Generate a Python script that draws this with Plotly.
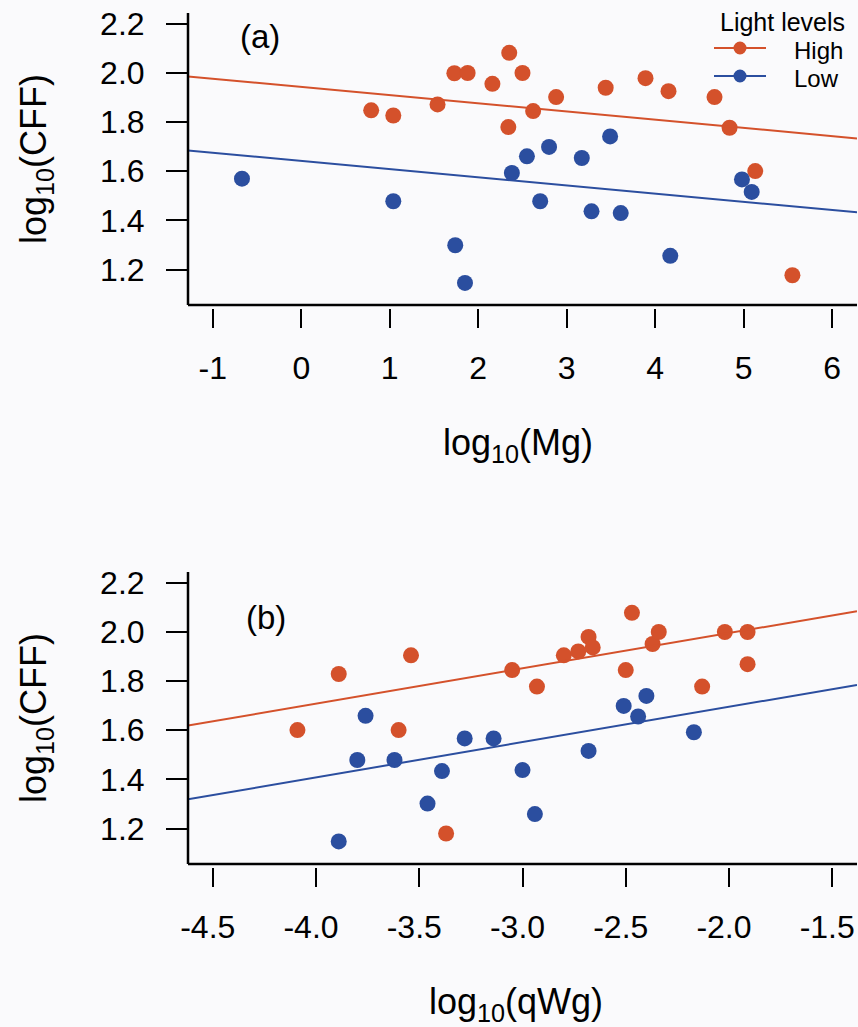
import plotly.graph_objects as go

# ---------------- data ----------------
# Panel (a): log10(Mg) vs log10(CFF)
mg_high_x = [0.79, 1.04, 1.54, 1.73, 1.88, 2.16, 2.35, 2.50, 2.34, 2.62, 2.88, 3.44, 3.89, 4.15, 4.67, 4.84, 5.13, 5.55]
mg_high_y = [1.848, 1.827, 1.872, 1.999, 2.000, 1.956, 2.082, 2.000, 1.780, 1.845, 1.902, 1.940, 1.979, 1.926, 1.902, 1.777, 1.601, 1.177]
mg_low_x = [-0.67, 1.04, 1.74, 1.85, 2.38, 2.55, 2.70, 2.80, 3.17, 3.28, 3.49, 3.61, 4.17, 4.98, 5.09]
mg_low_y = [1.570, 1.478, 1.299, 1.146, 1.593, 1.661, 1.478, 1.699, 1.654, 1.437, 1.742, 1.430, 1.256, 1.567, 1.516]

# Panel (b): log10(qWg) vs log10(CFF)
qwg_high_x = [-4.09, -3.89, -3.60, -3.54, -3.37, -3.05, -2.93, -2.80, -2.73, -2.68, -2.66, -2.50, -2.47, -2.37, -2.34, -2.13, -2.02, -1.91, -1.91]
qwg_high_y = [1.601, 1.829, 1.601, 1.905, 1.180, 1.845, 1.778, 1.905, 1.921, 1.980, 1.937, 1.845, 2.078, 1.951, 2.000, 1.778, 2.000, 2.000, 1.869]
qwg_low_x = [-3.89, -3.80, -3.76, -3.62, -3.46, -3.39, -3.28, -3.14, -3.00, -2.94, -2.68, -2.51, -2.44, -2.40, -2.17]
qwg_low_y = [1.148, 1.479, 1.659, 1.479, 1.302, 1.434, 1.567, 1.567, 1.438, 1.259, 1.516, 1.699, 1.656, 1.740, 1.592]

# Fitted (parallel) regression lines: intercept at x = 0 and common slope
mg_slope = -0.0333
mg_int_high = 1.943
mg_int_low = 1.642
qwg_slope = 0.1437
qwg_int_high = 2.283
qwg_int_low = 1.983

# Axis limits and tick labels
mg_xlim = [-1, 6]
qwg_xlim = [-4.5, -1.5]
cff_ylim = [1.1, 2.2]
mg_ticks = [-1, 0, 1, 2, 3, 4, 5, 6]
mg_ticktext = ["-1", "0", "1", "2", "3", "4", "5", "6"]
qwg_ticks = [-4.5, -4.0, -3.5, -3.0, -2.5, -2.0, -1.5]
qwg_ticktext = ["-4.5", "-4.0", "-3.5", "-3.0", "-2.5", "-2.0", "-1.5"]
cff_ticks = [1.2, 1.4, 1.6, 1.8, 2.0, 2.2]
cff_ticktext = ["1.2", "1.4", "1.6", "1.8", "2.0", "2.2"]
levels = ["High", "Low"]
legend_title = "Light levels"

# ---------------- styling ----------------
RED = "#D4512B"
BLUE = "#2B4E9F"
BG = "#FAFAFC"
FONT = "Liberation Sans, Arial, sans-serif"
W, H = 858, 1027
TICK_FS = 32
TITLE_FS = 36


def ext(lim):
    d = (lim[1] - lim[0]) * 0.04
    return [lim[0] - d, lim[1] + d]


def px(xp):
    return xp / W


def py(yp):
    return (H - yp) / H


xr_a = ext(mg_xlim)
xr_b = ext(qwg_xlim)
yr = ext(cff_ylim)

xdom = [px(188), px(857)]
ydom_a = [py(305), py(13)]
ydom_b = [py(864), py(572)]

fig = go.Figure()


def add_panel(xh, yh, xl, yl, slope, ih, il, xr, xa, ya):
    for xs, ys, c, nm in [(xh, yh, RED, levels[0]), (xl, yl, BLUE, levels[1])]:
        fig.add_trace(go.Scatter(x=xs, y=ys, mode="markers", xaxis=xa, yaxis=ya, name=nm,
                                 marker=dict(color=c, size=16, line=dict(width=0)),
                                 showlegend=False))
    for icpt, c in [(ih, RED), (il, BLUE)]:
        lx = [xr[0], xr[1]]
        ly = [icpt + slope * v for v in lx]
        fig.add_trace(go.Scatter(x=lx, y=ly, mode="lines", xaxis=xa, yaxis=ya,
                                 line=dict(color=c, width=2), showlegend=False,
                                 hoverinfo="skip"))


add_panel(mg_high_x, mg_high_y, mg_low_x, mg_low_y, mg_slope, mg_int_high, mg_int_low, xr_a, "x", "y")
add_panel(qwg_high_x, qwg_high_y, qwg_low_x, qwg_low_y, qwg_slope, qwg_int_high, qwg_int_low, xr_b, "x2", "y2")

xcommon = dict(showgrid=False, zeroline=False, showline=False, ticks="outside",
               ticklen=19, tickwidth=2, tickcolor="black", automargin=False,
               ticklabeloverflow="allow",
               tickfont=dict(family=FONT, size=TICK_FS, color="black"), ticklabelstandoff=13)
ycommon = dict(showgrid=False, zeroline=False, showline=False, ticks="outside",
               ticklen=21, tickwidth=2, tickcolor="black", automargin=False,
               tickfont=dict(family=FONT, size=TICK_FS, color="black"), ticklabelstandoff=15,
               range=yr, tickvals=cff_ticks, ticktext=cff_ticktext)

fig.update_layout(
    width=W, height=H, margin=dict(l=0, r=0, t=0, b=0),
    paper_bgcolor=BG, plot_bgcolor=BG,
    font=dict(family=FONT, size=TICK_FS, color="black"),
    xaxis=dict(domain=xdom, range=xr_a, anchor="free", position=ydom_a[0] - 3 / H,
               tickvals=mg_ticks, ticktext=mg_ticktext, **xcommon),
    yaxis=dict(domain=ydom_a, anchor="x", **ycommon),
    xaxis2=dict(domain=xdom, range=xr_b, anchor="free", position=ydom_b[0] - 3 / H,
                tickvals=qwg_ticks, ticktext=qwg_ticktext, ticklabelshift=-5, **xcommon),
    yaxis2=dict(domain=ydom_b, anchor="x2", **ycommon),
    showlegend=False,
)

shapes = []
for xa, ya in [("x", "y"), ("x2", "y2")]:
    shapes.append(dict(type="line", xref=f"{xa} domain", yref=f"{ya} domain",
                       x0=0, x1=0, y0=0, y1=1, line=dict(color="black", width=2.5)))
    shapes.append(dict(type="line", xref=f"{xa} domain", yref=f"{ya} domain",
                       x0=0, x1=1, y0=0, y1=0, line=dict(color="black", width=2.5)))

ann = []
# legend (drawn in the top-right corner of panel a)
for i, (nm, c) in enumerate(zip(levels, [RED, BLUE])):
    ly = 48 + i * 28
    shapes.append(dict(type="line", xref="paper", yref="paper", x0=px(714), x1=px(766),
                       y0=py(ly), y1=py(ly), line=dict(color=c, width=2)))
    shapes.append(dict(type="circle", xref="paper", yref="paper", xsizemode="pixel", ysizemode="pixel",
                       xanchor=px(740), yanchor=py(ly), x0=-6.5, x1=6.5, y0=-6.5, y1=6.5,
                       fillcolor=c, line=dict(width=0)))
    ann.append(dict(text=nm, x=px(792), y=py(ly + 3), xref="paper", yref="paper", showarrow=False,
                    xanchor="left", yanchor="middle", font=dict(family=FONT, size=24, color="black")))
ann.append(dict(text=legend_title, x=px(718), y=py(22), xref="paper", yref="paper", showarrow=False,
                xanchor="left", yanchor="middle", font=dict(family=FONT, size=25, color="black")))
fig.update_layout(shapes=shapes)

for ydom in [ydom_a, ydom_b]:
    ann.append(dict(text="log<sub>10</sub>(CFF)", x=px(36), y=(ydom[0] + ydom[1]) / 2,
                    xref="paper", yref="paper", showarrow=False, textangle=-90,
                    font=dict(family=FONT, size=TITLE_FS, color="black"),
                    xanchor="center", yanchor="middle"))
ann.append(dict(text="log<sub>10</sub>(Mg)", x=px(518), y=py(445), xref="paper", yref="paper",
                showarrow=False, font=dict(family=FONT, size=TITLE_FS, color="black"),
                xanchor="center", yanchor="middle"))
ann.append(dict(text="log<sub>10</sub>(qWg)", x=px(516), y=py(1004), xref="paper", yref="paper",
                showarrow=False, font=dict(family=FONT, size=TITLE_FS, color="black"),
                xanchor="center", yanchor="middle"))
ann.append(dict(text="(a)", x=px(260), y=py(36), xref="paper", yref="paper",
                showarrow=False, font=dict(family=FONT, size=33, color="black"),
                xanchor="center", yanchor="middle"))
ann.append(dict(text="(b)", x=px(266), y=py(617), xref="paper", yref="paper",
                showarrow=False, font=dict(family=FONT, size=33, color="black"),
                xanchor="center", yanchor="middle"))
fig.update_layout(annotations=ann)

fig.write_html("out.html", post_script="document.body.style.margin='0px';",
               config={"displayModeBar": False})
